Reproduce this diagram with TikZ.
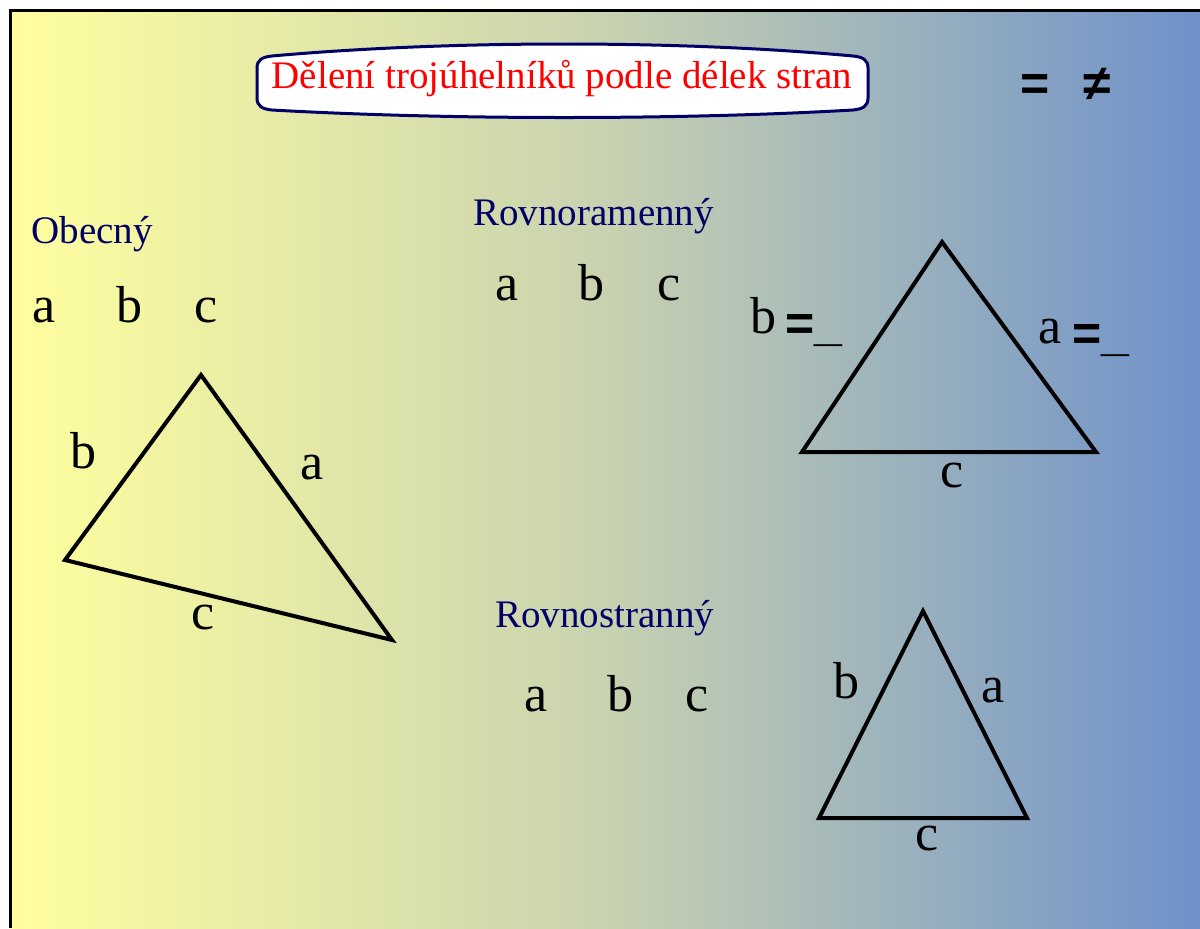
\documentclass[tikz,border=0pt]{standalone}
\usepackage{fontspec}
\setmainfont{Liberation Serif}
\newfontfamily\symfont{Liberation Sans}
\definecolor{navy}{RGB}{0,0,102}
\definecolor{bgleft}{RGB}{255,255,158}
\definecolor{bgmid}{RGB}{200,210,176}
\definecolor{bgright}{RGB}{110,145,202}
\begin{document}
\begin{tikzpicture}[x=0.5pt, y=-0.5pt,
    letter/.style={anchor=base,inner sep=0pt,font=\fontsize{26}{30}\selectfont},
    kind/.style={anchor=base west,inner sep=0pt,text=navy,font=\fontsize{19.5}{23}\selectfont},
    eqsign/.style={anchor=base,inner sep=0pt,font=\symfont\bfseries\fontsize{25}{30}\selectfont},
    side/.style={line width=2pt,line join=miter} ]
    \useasboundingbox (0,0) rectangle (1200,928);
    \shade [left color=bgleft, right color=bgright, middle color=bgmid] (10,10) rectangle (1200,928);
    \draw [line width=1.5pt] (10,928) -- (10,10) -- (1200,10);
    % title
    \draw [navy, line width=1.5pt, fill=white] (257,68) .. controls (257,60) and (262,57) .. (272,56)
      .. controls (450,40) and (680,40) .. (853,56) .. controls (863,57) and (868,60) .. (868,68)
      -- (868,98) .. controls (868,106) and (863,109) .. (853,110)
      .. controls (680,120) and (450,120) .. (272,110) .. controls (262,109) and (257,106) .. (257,98) -- cycle;
    \node at (562,79) [inner sep=0pt,text=red,font=\fontsize{19.5}{23}\selectfont] (title) {Dělení trojúhelníků podle délek stran};
    \node at (1035,100) [eqsign] (eq) {=};
    \node at (1097,100) [eqsign] (neq) {≠};
    % obecny
    \node at (31,243) [kind] (k1) {Obecný};
    \node at (44,322) [letter] (a1) {a};
    \node at (129,322) [letter] (b1) {b};
    \node at (206,322) [letter] (c1) {c};
    \coordinate (A1) at (392,640);
    \coordinate (B1) at (65,560);
    \coordinate (C1) at (201,375);
    \draw [side] (A1) -- (B1) -- (C1) -- cycle;
    \node at (83,468) [letter] (sb1) {b};
    \node at (312,479) [letter] (sa1) {a};
    \node at (203,629) [letter] (sc1) {c};
    % rovnoramenny
    \node at (473,225) [kind] (k2) {Rovnoramenný};
    \node at (507,300) [letter] (a2) {a};
    \node at (591,300) [letter] (b2) {b};
    \node at (669,300) [letter] (c2) {c};
    \coordinate (A2) at (1096,452);
    \coordinate (B2) at (802,452);
    \coordinate (C2) at (942,242);
    \draw [side] (A2) -- (B2) -- (C2) -- cycle;
    \node at (763,333) [letter] (sb2) {b};
    \node at (814,340) [eqsign] (eb2) {=\_};
    \node at (1050,343) [letter] (sa2) {a};
    \node at (1101,350) [eqsign] (ea2) {=\_};
    \node at (952,487) [letter] (sc2) {c};
    % rovnostranny
    \node at (495,627) [kind] (k3) {Rovnostranný};
    \node at (536,711) [letter] (a3) {a};
    \node at (620,711) [letter] (b3) {b};
    \node at (697,711) [letter] (c3) {c};
    \coordinate (A3) at (1027,818);
    \coordinate (B3) at (819,818);
    \coordinate (C3) at (923,611);
    \draw [side] (A3) -- (B3) -- (C3) -- cycle;
    \node at (846,698) [letter] (sb3) {b};
    \node at (993,702) [letter] (sa3) {a};
    \node at (927,850) [letter] (sc3) {c};
\end{tikzpicture}
\end{document}
